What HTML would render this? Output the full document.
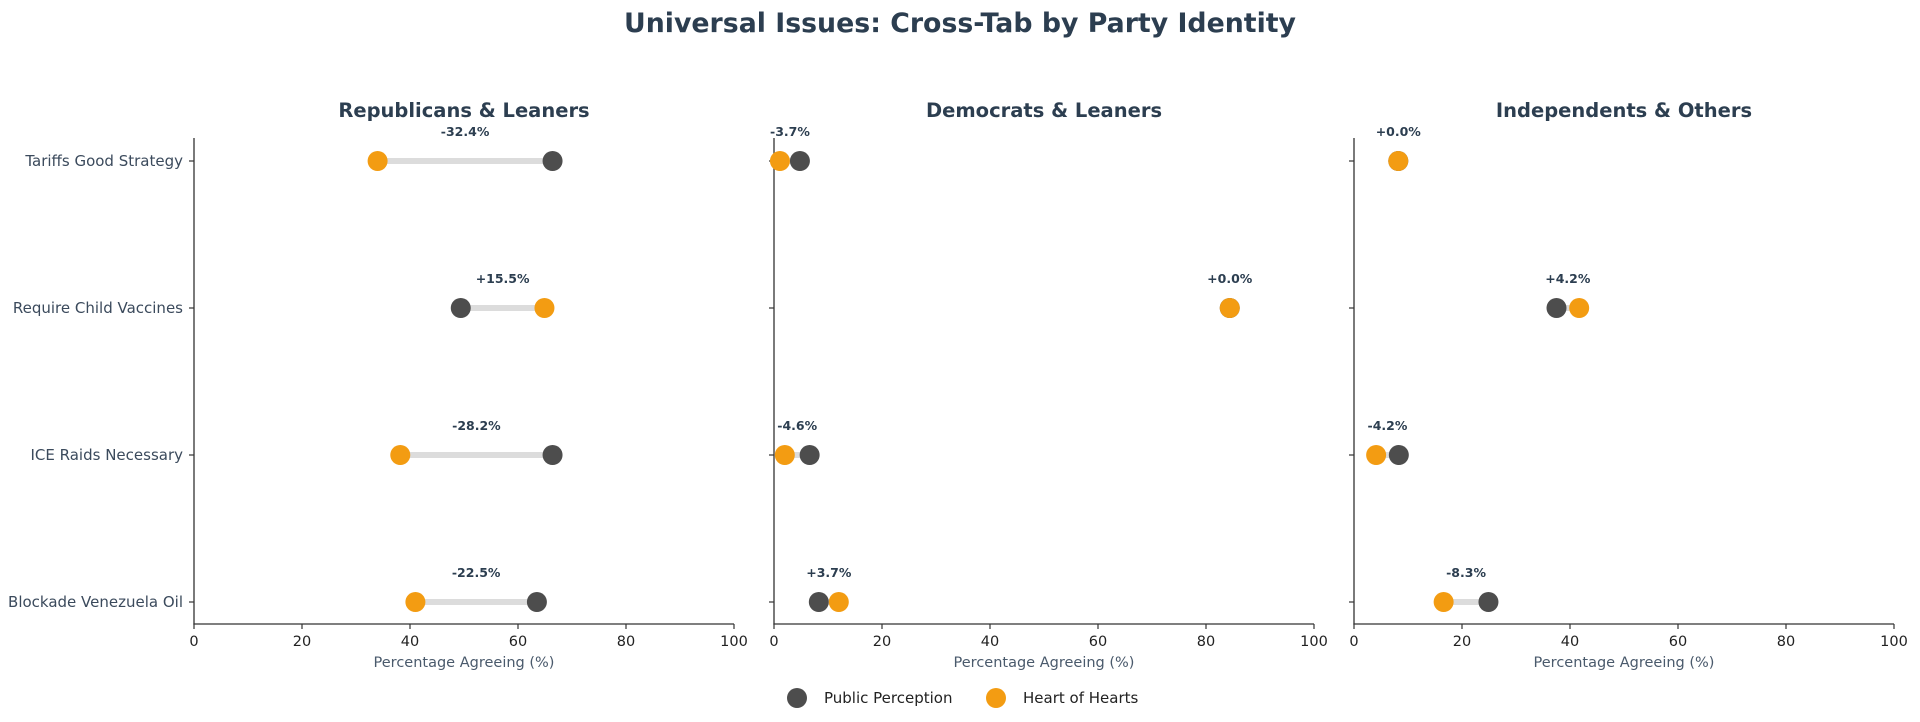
<!DOCTYPE html>
<html><head><meta charset="utf-8"><style>
html,body{margin:0;padding:0;background:#fff;}
svg{display:block;font-family:"DejaVu Sans","Liberation Sans",sans-serif;}
.tk{font-size:14.5px;fill:#222;}
.yl{font-size:15px;fill:#3b4a5c;}
.xl{font-size:14.5px;fill:#4a5a6c;}
.st{font-size:19.5px;font-weight:bold;fill:#2c3e50;}
.dl{font-size:12.5px;font-weight:bold;fill:#2c3e50;}
</style></head><body>
<svg width="1920" height="722" viewBox="0 0 1920 722" xmlns="http://www.w3.org/2000/svg">
<text x="960" y="32" text-anchor="middle" font-size="27" font-weight="bold" fill="#2c3e50" textLength="672" lengthAdjust="spacingAndGlyphs">Universal Issues: Cross-Tab by Party Identity</text>
<g id="panels"></g>
<circle cx="797" cy="698" r="10" fill="#4d4d4d"/>
<text x="824" y="703" font-size="15" fill="#222">Public Perception</text>
<circle cx="996" cy="698" r="10" fill="#f39c12"/>
<text x="1023" y="703" font-size="15" fill="#222">Heart of Hearts</text>
</svg>
<script>
var P=[{x0:194,t:"Republicans & Leaners",d:[[66.4,34.0,"-32.4%"],[49.4,64.9,"+15.5%"],[66.4,38.2,"-28.2%"],[63.5,41.0,"-22.5%"]]},
{x0:774,t:"Democrats & Leaners",d:[[4.8,1.1,"-3.7%"],[84.4,84.4,"+0.0%"],[6.6,2.0,"-4.6%"],[8.3,12.0,"+3.7%"]]},
{x0:1354,t:"Independents & Others",d:[[8.2,8.2,"+0.0%"],[37.5,41.7,"+4.2%"],[8.3,4.1,"-4.2%"],[24.9,16.6,"-8.3%"]]}];
var rows=[161,308,455,602],labs=["Tariffs Good Strategy","Require Child Vaccines","ICE Raids Necessary","Blockade Venezuela Oil"];
var W=540,s="";
P.forEach(function(p,i){
 var X=function(v){return p.x0+v*W/100;};
 s+='<text class="st" x="'+(p.x0+W/2)+'" y="117" text-anchor="middle">'+p.t.replace("&","&amp;")+'</text>';
 s+='<line x1="'+p.x0+'" y1="138" x2="'+p.x0+'" y2="624.5" stroke="#333" stroke-width="1.3"/>';
 s+='<line x1="'+(p.x0-0.6)+'" y1="624" x2="'+(p.x0+W)+'" y2="624" stroke="#333" stroke-width="1.3"/>';
 for(var k=0;k<=100;k+=20){s+='<line x1="'+X(k)+'" y1="624" x2="'+X(k)+'" y2="629" stroke="#333" stroke-width="1.2"/><text class="tk" x="'+X(k)+'" y="646" text-anchor="middle">'+k+'</text>';}
 s+='<text class="xl" x="'+(p.x0+W/2)+'" y="667" text-anchor="middle">Percentage Agreeing (%)</text>';
 rows.forEach(function(y,j){
  s+='<line x1="'+(p.x0-5)+'" y1="'+y+'" x2="'+p.x0+'" y2="'+y+'" stroke="#333" stroke-width="1.2"/>';
  if(i==0)s+='<text class="yl" x="183" y="'+(y+5)+'" text-anchor="end">'+labs[j]+'</text>';
  var d=p.d[j],a=X(d[0]),b=X(d[1]);
  s+='<line x1="'+a+'" y1="'+y+'" x2="'+b+'" y2="'+y+'" stroke="#dcdcdc" stroke-width="6"/>';
  s+='<circle cx="'+a+'" cy="'+y+'" r="10" fill="#4d4d4d"/><circle cx="'+b+'" cy="'+y+'" r="10" fill="#f39c12"/>';
  s+='<text class="dl" x="'+((a+b)/2)+'" y="'+(y-25)+'" text-anchor="middle">'+d[2]+'</text>';
 });
});
document.getElementById("panels").innerHTML=s;
</script>
</body></html>
